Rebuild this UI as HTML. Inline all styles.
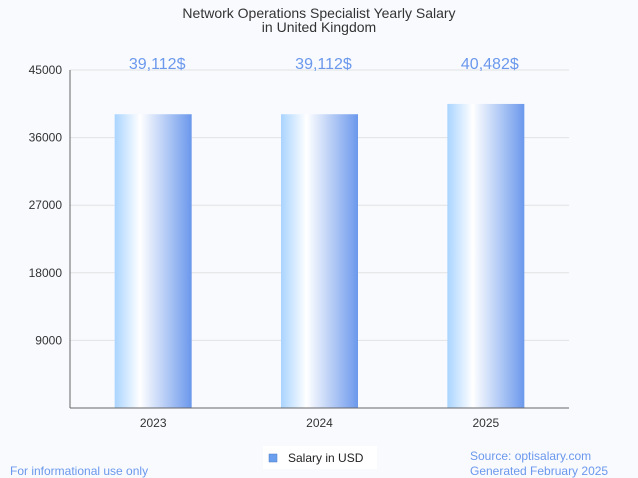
<!DOCTYPE html>
<html><head><meta charset="utf-8"><style>
body{margin:0;background:#f8fafe;font-family:"Liberation Sans",sans-serif;}
svg{display:block}
</style></head><body>
<svg id="chart" width="638" height="478">
<defs><linearGradient id="g" x1="0" x2="1" y1="0" y2="0">
<stop offset="0" stop-color="#a9d4ff"/><stop offset="0.33" stop-color="#ffffff"/><stop offset="1" stop-color="#6b98ec"/>
</linearGradient></defs>
<text x="319" y="18" text-anchor="middle" font-size="14" fill="#333">Network Operations Specialist Yearly Salary</text>
<text x="319" y="32" text-anchor="middle" font-size="14" fill="#333">in United Kingdom</text>
<g id="grid"></g><g id="bars"></g>
<line x1="70" y1="408" x2="569" y2="408" stroke="#666"/>
<line x1="70" y1="70" x2="70" y2="408" stroke="#666"/>
<rect x="263" y="446" width="114" height="23" fill="#fff"/>
<rect x="269" y="454" width="8" height="8" fill="#6a9ff0" stroke="#4a7fc0" stroke-width="0.5"/>
<text x="288" y="462" font-size="12" fill="#222">Salary in USD</text>
<text x="10" y="475" font-size="12" fill="#6b98ec">For informational use only</text>
<text x="470" y="460" font-size="12" fill="#6b98ec">Source: optisalary.com</text>
<text x="470" y="475" font-size="12" fill="#6b98ec">Generated February 2025</text>
</svg>
<script>
const categories=["2023","2024","2025"];
const values=[39112,39112,40482];
const valueLabels=["39,112$","39,112$","40,482$"];
const ticks=[9000,18000,27000,36000,45000];
const NS="http://www.w3.org/2000/svg";
const x0=70,x1=569,yb=408,yt=70,ymax=45000;
const y=v=>yb-(v/ymax)*(yb-yt);
const band=(x1-x0)/categories.length;
const xc=i=>x0+band*(i+0.5);
function mk(t,a,p){const e=document.createElementNS(NS,t);for(const k in a)e.setAttribute(k,a[k]);p.appendChild(e);return e;}
const grid=document.getElementById('grid'),bars=document.getElementById('bars');
ticks.forEach(t=>{
 const l=mk('line',{x1:x0,x2:x1,y1:y(t),y2:y(t),stroke:'#e2e2e2'},grid);
 
 
 const tx=mk('text',{x:x0-8,y:y(t)+4,'text-anchor':'end','font-size':12,fill:'#333'},grid);
 tx.textContent=t;
 
 
});
categories.forEach((c,i)=>{
 const w=77;
 const r=mk('rect',{x:xc(i)-w/2,y:y(values[i]),width:w,height:yb-y(values[i]),fill:'url(#g)'},bars);
 
 
 const lb=mk('text',{x:xc(i)+4,y:69,'text-anchor':'middle','font-size':16,fill:'#6b98ec'},bars);
 lb.textContent=valueLabels[i];
 
 
 const xt=mk('text',{x:xc(i),y:427,'text-anchor':'middle','font-size':12,fill:'#333'},bars);
 xt.textContent=c;
 
 
});
</script>
</body></html>
